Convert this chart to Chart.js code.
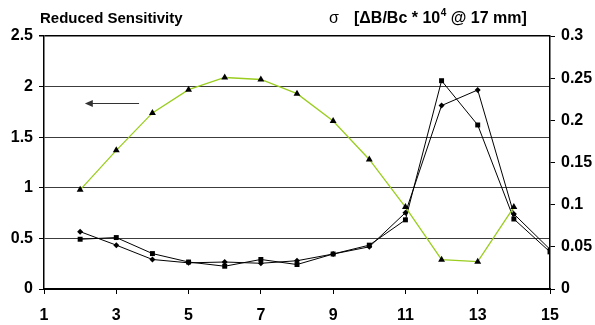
<!DOCTYPE html>
<html>
<head>
<meta charset="utf-8">
<script src="https://cdn.jsdelivr.net/npm/chart.js@4/dist/chart.umd.min.js"></script>
<style>
  html, body { margin: 0; padding: 0; background: #fff; }
  #wrap { width: 595px; height: 325px; position: relative; }
</style>
</head>
<body>
<div id="wrap"><canvas id="chart"></canvas></div>
<script>
// positions on x axis
const xGreen = [2, 3, 4, 5, 6, 7, 8, 9, 10, 11, 12, 13, 14];
const xBlack = [2, 3, 4, 5, 6, 7, 8, 9, 10, 11, 12, 13, 14, 15];

// reduced sensitivity (left axis)
const sensitivity = [0.98, 1.37, 1.74, 1.97, 2.09, 2.07, 1.93, 1.66, 1.28, 0.81, 0.29, 0.27, 0.81];
// sigma, two series (right axis)
const sigmaSquare = [0.059, 0.061, 0.042, 0.032, 0.027, 0.035, 0.029, 0.0415, 0.052, 0.082, 0.247, 0.1945, 0.083, 0.044];
const sigmaDiamond = [0.068, 0.052, 0.035, 0.031, 0.032, 0.0305, 0.0335, 0.0415, 0.050, 0.0905, 0.2175, 0.236, 0.089, 0.047];

// tick labels
const xTicks = [1, 3, 5, 7, 9, 11, 13, 15];
const leftTicks = [0, 0.5, 1, 1.5, 2, 2.5];
const rightTicks = [0, 0.05, 0.1, 0.15, 0.2, 0.25, 0.3];

const FONT = "'Liberation Sans', Arial, sans-serif";

function pts(xs, ys) {
  return xs.map((x, i) => ({ x: x, y: ys[i] }));
}

// titles + arrow
const extras = {
  id: "extras",
  afterDraw(chart) {
    const ctx = chart.ctx;
    ctx.save();
    ctx.fillStyle = "#000";
    ctx.textBaseline = "alphabetic";
    ctx.font = "bold 15px " + FONT;
    ctx.fillText("Reduced Sensitivity", 40, 23);
    ctx.font = "16px " + FONT;
    ctx.fillText("σ", 329, 23);
    ctx.font = "bold 16px " + FONT;
    let x = 354;
    const a = "[ΔB/Bc * 10";
    ctx.fillText(a, x, 23);
    x += ctx.measureText(a).width;
    ctx.font = "bold 10px " + FONT;
    ctx.fillText("4", x + 0.5, 16);
    x += ctx.measureText("4").width + 0.5;
    ctx.font = "bold 16px " + FONT;
    ctx.fillText(" @ 17 mm]", x, 23);

    // arrow pointing to the left axis
    const sx = chart.scales.x, sy = chart.scales.y;
    const x1 = sx.getPixelForValue(3.63), x2 = sx.getPixelForValue(2.13);
    const y = Math.round(sy.getPixelForValue(1.84)) + 0.5;
    ctx.strokeStyle = "#333";
    ctx.fillStyle = "#333";
    ctx.lineWidth = 1.2;
    ctx.beginPath();
    ctx.moveTo(x1, y);
    ctx.lineTo(x2 + 6, y);
    ctx.stroke();
    ctx.beginPath();
    ctx.moveTo(x2, y);
    ctx.lineTo(x2 + 8, y - 3.5);
    ctx.lineTo(x2 + 8, y + 3.5);
    ctx.closePath();
    ctx.fill();
    ctx.restore();
  },
};

new Chart(document.getElementById("chart"), {
  type: "line",
  data: {
    datasets: [
      {
        label: "Reduced Sensitivity",
        data: pts(xGreen, sensitivity),
        yAxisID: "y",
        borderColor: "#9acd1e",
        borderWidth: 1.3,
        pointStyle: "triangle",
        pointRadius: 4,
        pointBackgroundColor: "#000",
        pointBorderColor: "#000",
        pointBorderWidth: 0,
        tension: 0,
      },
      {
        label: "sigma 1",
        data: pts(xBlack, sigmaSquare),
        yAxisID: "y2",
        borderColor: "#000",
        borderWidth: 1,
        pointStyle: "rect",
        pointRadius: 3.5,
        pointBackgroundColor: "#000",
        pointBorderColor: "#000",
        pointBorderWidth: 0,
        tension: 0,
      },
      {
        label: "sigma 2",
        data: pts(xBlack, sigmaDiamond),
        yAxisID: "y2",
        borderColor: "#000",
        borderWidth: 1,
        pointStyle: "rectRot",
        pointRadius: 3,
        pointBackgroundColor: "#000",
        pointBorderColor: "#000",
        pointBorderWidth: 0,
        tension: 0,
      },
    ],
  },
  options: {
    responsive: true,
    maintainAspectRatio: false,
    animation: false,
    layout: { padding: { top: 36, left: 0, right: 0, bottom: 0 } },
    plugins: { legend: { display: false }, tooltip: { enabled: false } },
    scales: {
      x: {
        type: "linear",
        min: 1,
        max: 15,
        afterBuildTicks: (s) => { s.ticks = xTicks.map((v) => ({ value: v })); },
        afterFit: (s) => { s.height = 36; },
        ticks: {
          color: "#000",
          font: { family: FONT, size: 16, weight: "bold" },
          padding: 12,
          maxRotation: 0,
          autoSkip: false,
        },
        grid: { drawOnChartArea: false, tickLength: 5, tickColor: "#000", tickWidth: 1 },
        border: { color: "#000", width: 2 },
      },
      y: {
        position: "left",
        min: 0,
        max: 2.5,
        afterBuildTicks: (s) => { s.ticks = leftTicks.map((v) => ({ value: v })); },
        afterFit: (s) => { s.width = 44; },
        ticks: {
          color: "#000",
          font: { family: FONT, size: 16, weight: "bold" },
          padding: 6,
          callback: (v) => String(v),
        },
        grid: {
          color: (c) => (c.tick && c.tick.value === 2.5 ? "#000" : c.tick && c.tick.value === 0 ? "rgba(0,0,0,0)" : "#3c3c3c"),
          lineWidth: (c) => (c.tick && c.tick.value === 2.5 ? 1.5 : 1),
          tickColor: "#000",
          tickLength: 5,
        },
        border: { color: "#000", width: 1.5 },
      },
      y2: {
        position: "right",
        min: 0,
        max: 0.3,
        afterBuildTicks: (s) => { s.ticks = rightTicks.map((v) => ({ value: v })); },
        afterFit: (s) => { s.width = 45; },
        ticks: {
          color: "#000",
          font: { family: FONT, size: 16, weight: "bold" },
          padding: 6,
          callback: (v) => String(v),
        },
        grid: { drawOnChartArea: false, tickColor: "#000", tickLength: 5 },
        border: { color: "#000", width: 1.5 },
      },
    },
  },
  plugins: [extras],
});
</script>
</body>
</html>
